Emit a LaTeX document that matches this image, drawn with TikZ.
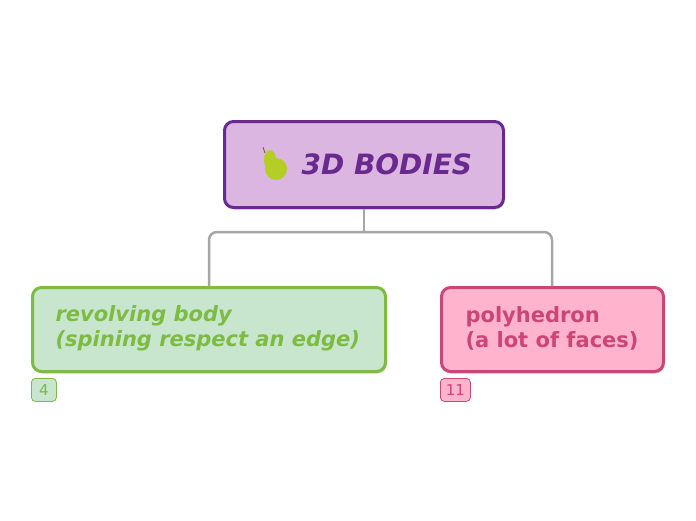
\documentclass[tikz,border=0pt]{standalone}
\usepackage{fontspec}
\setmainfont{DejaVu Sans}
\usetikzlibrary{positioning,shadows}
\definecolor{rootfill}{HTML}{DAB6E0}
\definecolor{rootline}{HTML}{69298F}
\definecolor{leftfill}{HTML}{C7E6CD}
\definecolor{leftline}{HTML}{7DBB42}
\definecolor{rightfill}{HTML}{FFB3CD}
\definecolor{rightline}{HTML}{CB4675}
\definecolor{linkgray}{HTML}{A6A6A6}
\tikzset{
  topic/.style={draw, rounded corners=9pt, line width=3pt, anchor=north west,
    drop shadow={shadow xshift=1pt, shadow yshift=-2pt, opacity=0.35}},
  badge/.style={draw, rounded corners=4pt, line width=0.8pt, anchor=north west,
    font=\fontsize{15}{17}\selectfont, inner sep=0pt},
  link/.style={linkgray, line width=2.5pt, rounded corners=8pt}
}
\begin{document}
\begin{tikzpicture}[x=1pt,y=-1pt]
    \useasboundingbox (0,0) rectangle (696,520);

    \node[topic, rootline, fill=rootfill, minimum width=279pt, minimum height=86pt] (root) at (223,120) {};
    \node[text=rootline, font=\fontsize{28}{32}\selectfont\bfseries\itshape, anchor=west] (title) at (298,164) {3D BODIES};

    % pear
    \fill[yellow!75!green!90!black] (276,169) ellipse (11pt and 11pt);
    \fill[yellow!75!green!90!black] (270,160) ellipse (6pt and 10pt);
    \draw[brown!70!black, line width=0.8pt] (265,153) -- (263,147);

    \node[topic, leftline, fill=leftfill, minimum width=353pt, minimum height=84pt] (revolving) at (31,286) {};
    \node[text=leftline, font=\fontsize{21}{25}\selectfont\bfseries\itshape, align=left, anchor=west] (revtext) at (52,328) {revolving body\\(spining respect an edge)};

    \node[topic, rightline, fill=rightfill, minimum width=222pt, minimum height=84pt] (poly) at (440,286) {};
    \node[text=rightline, font=\fontsize{21}{25}\selectfont\bfseries, align=left, anchor=west] (polytext) at (462,328) {polyhedron\\(a lot of faces)};

    \node[badge, leftline, fill=leftfill, text=leftline, minimum width=25pt, minimum height=23pt] (revcount) at (31,378) {4};
    \node[badge, rightline, fill=rightfill, text=rightline, minimum width=30pt, minimum height=23pt] (polycount) at (440,378) {11};

    \coordinate (joint) at (root.south |- 0,232);
    \draw[link] (root.south) -- (joint);
    \draw[link] (joint) -| (revolving.north);
    \draw[link] (joint) -| (poly.north -| 552,0);
\end{tikzpicture}
\end{document}
